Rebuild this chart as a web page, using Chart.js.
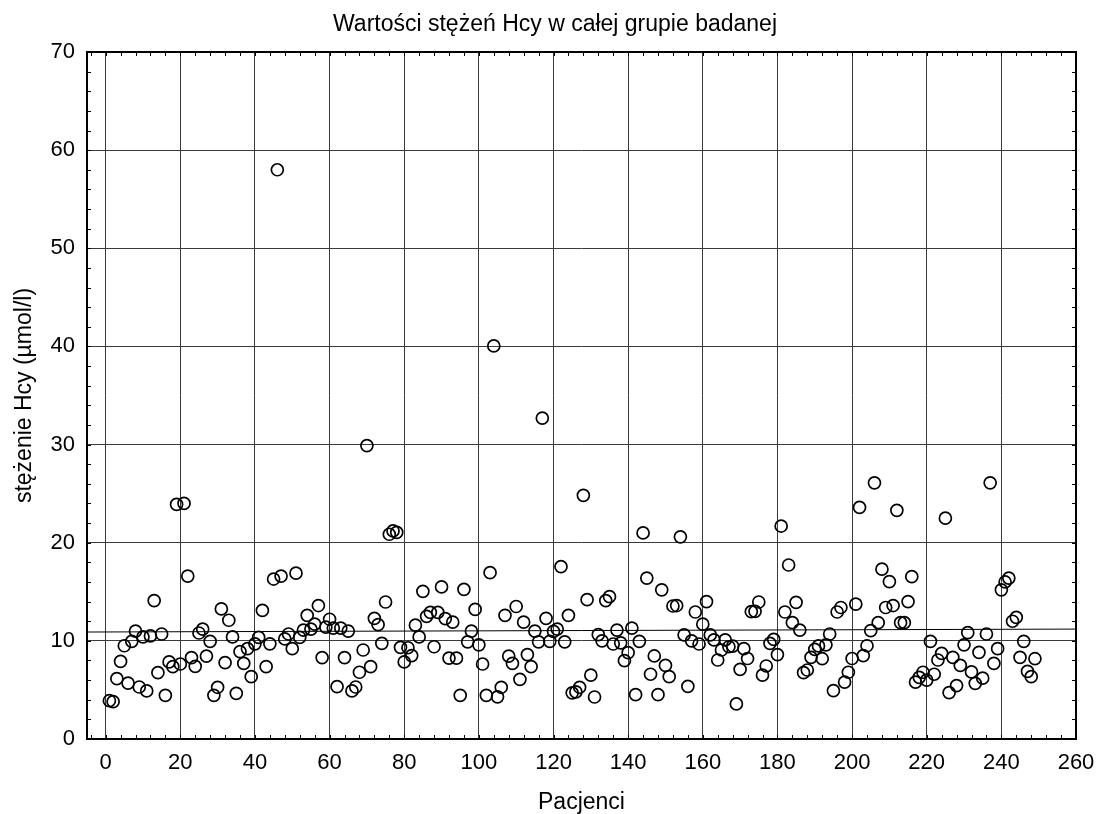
<!DOCTYPE html>
<html lang="pl">
<head>
<meta charset="utf-8">
<title>Wartości stężeń Hcy w całej grupie badanej</title>
<script src="https://cdn.jsdelivr.net/npm/chart.js@4.4.1/dist/chart.umd.min.js"></script>
<style>
    html, body { margin: 0; padding: 0; background: #fff; }
    #hcyChart { display: block; }
</style>
</head>
<body>
<canvas id="hcyChart" width="1097" height="814"></canvas>
<script>
// ---- Data ----
// Hcy concentration for patients 1..249, in order
const hcy = [
    3.9, 3.8, 6.15, 7.9, 9.5, 5.7, 9.95, 11.0, 5.3, 10.4,
    4.9, 10.5, 14.1, 6.76, 10.7, 4.45, 7.85, 7.37, 23.9, 7.64,
    24.0, 16.6, 8.3, 7.4, 10.8, 11.2, 8.45, 9.95, 4.45, 5.27,
    13.25, 7.78, 12.1, 10.4, 4.65, 8.9, 7.7, 9.2, 6.35, 9.7,
    10.35, 13.1, 7.37, 9.7, 16.3, 58.0, 16.6, 10.2, 10.7, 9.2,
    16.9, 10.35, 11.1, 12.6, 11.2, 11.7, 13.6, 8.3, 11.4, 12.2,
    11.3, 5.33, 11.3, 8.3, 11.0, 4.9, 5.3, 6.8, 9.07, 29.9,
    7.37, 12.3, 11.65, 9.75, 13.96, 20.86, 21.2, 21.06, 9.34, 7.85,
    9.3, 8.5, 11.6, 10.4, 15.05, 12.5, 12.9, 9.4, 12.9, 15.5,
    12.26, 8.25, 11.9, 8.25, 4.45, 15.25, 9.9, 11.0, 13.2, 9.6,
    7.64, 4.45, 16.95, 40.05, 4.3, 5.27, 12.6, 8.45, 7.7, 13.5,
    6.08, 11.9, 8.6, 7.37, 11.0, 9.9, 32.7, 12.3, 9.95, 10.97,
    11.2, 17.56, 9.9, 12.6, 4.7, 4.8, 5.27, 24.83, 14.2, 6.5,
    4.28, 10.63, 10.0, 14.1, 14.5, 9.68, 11.1, 9.8, 7.98, 8.8,
    11.3, 4.52, 9.95, 21.0, 16.4, 6.6, 8.46, 4.52, 15.2, 7.5,
    6.35, 13.55, 13.6, 20.6, 10.6, 5.37, 10.0, 12.94, 9.68, 11.7,
    14.0, 10.6, 10.1, 8.05, 9.07, 10.1, 9.4, 9.47, 3.57, 7.1,
    9.2, 8.2, 12.97, 13.0, 13.96, 6.5, 7.44, 9.75, 10.15, 8.6,
    21.7, 12.94, 17.73, 11.85, 13.93, 11.1, 6.76, 7.03, 8.32, 9.14,
    9.48, 8.18, 9.6, 10.7, 4.92, 12.94, 13.4, 5.8, 6.8, 8.2,
    13.75, 23.6, 8.5, 9.5, 11.04, 26.1, 11.85, 17.3, 13.4, 16.03,
    13.6, 23.3, 11.85, 11.85, 14.0, 16.54, 5.8, 6.28, 6.8, 6.0,
    9.95, 6.6, 8.05, 8.73, 22.5, 4.72, 8.32, 5.44, 7.5, 9.6,
    10.83, 6.83, 5.67, 8.83, 6.2, 10.7, 26.1, 7.7, 9.2, 15.2,
    16.0, 16.4, 12.0, 12.4, 8.32, 9.95, 6.9, 6.35, 8.18
];

// horizontal reference line (fit across the group)
const fitX = [-5, 260];
const fitY = [10.9, 11.2];

// tick labels
const xTicks = [0, 20, 40, 60, 80, 100, 120, 140, 160, 180, 200, 220, 240, 260];
const yTicks = [0, 10, 20, 30, 40, 50, 60, 70];

const chartTitle = "Wartości stężeń Hcy w całej grupie badanej";
const xTitle = "Pacjenci";
const yTitle = "stężenie Hcy (µmol/l)";

// ---- Styles ----
const FONT = "'Liberation Sans', Arial, Helvetica, sans-serif";
const GRID = "#3a3a3a";
const TICK_SIZE = 22;
const TITLE_SIZE = 23;

// ---- Frame, small inner ticks and the title (Statistica look) ----
const decorPlugin = {
    id: "decor",
    afterDraw(chart) {
        const { ctx, chartArea: a, scales } = chart;
        const xs = scales.x, ys = scales.y;
        const len = 4;

        ctx.save();
        ctx.strokeStyle = "#000";
        ctx.lineWidth = 1;
        ctx.beginPath();

        for (let v = -4; v <= 260; v += 4) {
            const px = Math.round(xs.getPixelForValue(v)) + 0.5;
            ctx.moveTo(px, a.top);
            ctx.lineTo(px, a.top + len);
            ctx.moveTo(px, a.bottom);
            ctx.lineTo(px, a.bottom - len);
        }
        for (let v = 0; v <= 70; v += 2) {
            const py = Math.round(ys.getPixelForValue(v)) + 0.5;
            ctx.moveTo(a.left, py);
            ctx.lineTo(a.left + len, py);
            ctx.moveTo(a.right, py);
            ctx.lineTo(a.right - len, py);
        }
        ctx.stroke();

        ctx.lineWidth = 2;
        ctx.strokeRect(a.left, a.top, a.right - a.left, a.bottom - a.top);

        // title sits a little right of the page centre in the original
        ctx.fillStyle = "#000";
        ctx.font = TITLE_SIZE + "px " + FONT;
        ctx.textAlign = "center";
        ctx.textBaseline = "alphabetic";
        ctx.fillText(chartTitle, 555, 31);
        ctx.restore();
    }
};

const points = hcy.map((v, i) => ({ x: i + 1, y: v }));
const fitLine = fitX.map((x, i) => ({ x: x, y: fitY[i] }));

new Chart(document.getElementById("hcyChart"), {
    type: "scatter",
    data: {
        datasets: [
            {
                data: points,
                pointStyle: "circle",
                pointRadius: 6,
                pointHoverRadius: 6,
                pointBorderWidth: 1.7,
                borderColor: "#000",
                backgroundColor: "rgba(0,0,0,0)"
            },
            {
                type: "line",
                data: fitLine,
                borderColor: "#000",
                borderWidth: 1,
                pointRadius: 0,
                fill: false
            }
        ]
    },
    options: {
        responsive: false,
        animation: false,
        layout: { padding: { left: 0, right: 21, top: 52, bottom: 0 } },
        plugins: {
            legend: { display: false },
            tooltip: { enabled: false },
            title: { display: false }
        },
        scales: {
            x: {
                type: "linear",
                min: -5,
                max: 260,
                afterBuildTicks: s => { s.ticks = xTicks.map(v => ({ value: v })); },
                afterFit: s => {
                    s.height = 75;
                    s.paddingLeft = 0;
                    s.paddingRight = 0;
                },
                grid: { color: GRID, lineWidth: 1, drawTicks: false },
                border: { display: false },
                ticks: {
                    color: "#000",
                    padding: 11,
                    maxRotation: 0,
                    font: { family: FONT, size: TICK_SIZE }
                },
                title: {
                    display: true,
                    text: xTitle,
                    color: "#000",
                    font: { family: FONT, size: TITLE_SIZE },
                    padding: { top: 0, bottom: -2 }
                }
            },
            y: {
                min: 0,
                max: 70,
                afterBuildTicks: s => { s.ticks = yTicks.map(v => ({ value: v })); },
                afterFit: s => {
                    s.width = 87;
                    s.paddingTop = 0;
                    s.paddingBottom = 0;
                },
                grid: { color: GRID, lineWidth: 1, drawTicks: false },
                border: { display: false },
                ticks: {
                    color: "#000",
                    padding: 12,
                    font: { family: FONT, size: TICK_SIZE }
                },
                title: {
                    display: true,
                    text: yTitle,
                    color: "#000",
                    font: { family: FONT, size: TITLE_SIZE },
                    padding: { top: 11, bottom: 0 }
                }
            }
        }
    },
    plugins: [decorPlugin]
});
</script>
</body>
</html>
